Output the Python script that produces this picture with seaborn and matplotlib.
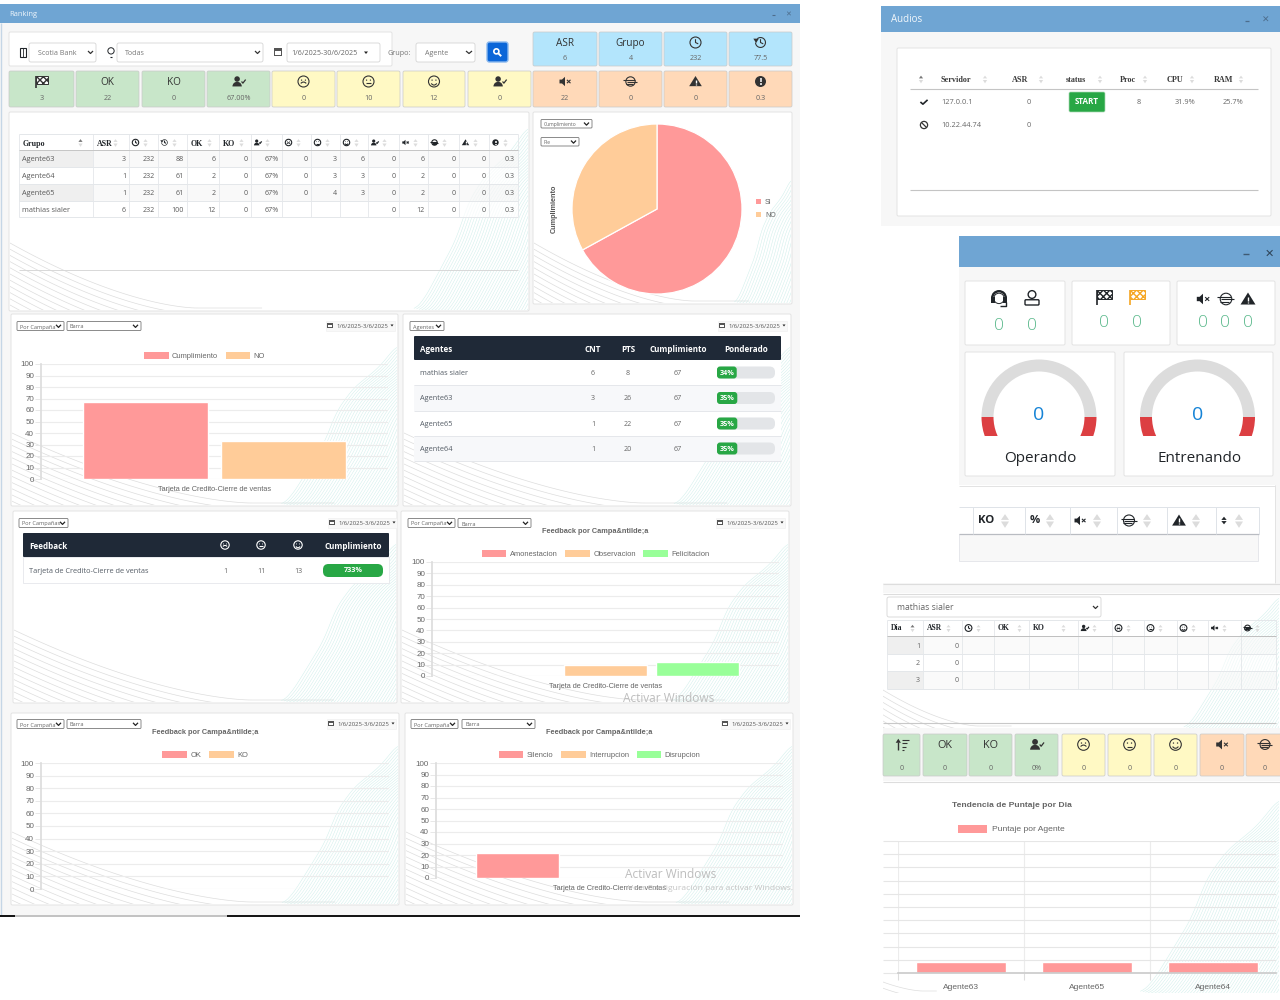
import numpy as np
import pandas as pd
import matplotlib
matplotlib.use("Agg")
import matplotlib.pyplot as plt
from matplotlib.patches import Rectangle, Circle, Polygon, Wedge, FancyBboxPatch, Patch
import seaborn as sns

# ------------------ data ------------------
rank_headers = ["Grupo", "ASR", "@clock", "@history", "OK", "KO", "@user", "@sad", "@neutral", "@happy",
                "@user", "@mute", "@globe", "@warn", "@info"]
rank_agente63 = ["Agente63", "3", "232", "88", "6", "0", "67%", "0", "3", "6", "0", "6", "0", "0", "0.3"]
rank_agente64 = ["Agente64", "1", "232", "61", "2", "0", "67%", "0", "3", "3", "0", "2", "0", "0", "0.3"]
rank_agente65 = ["Agente65", "1", "232", "61", "2", "0", "67%", "0", "4", "3", "0", "2", "0", "0", "0.3"]
rank_mathias = ["mathias sialer", "6", "232", "100", "12", "0", "67%", "", "", "", "0", "12", "0", "0", "0.3"]

kpi_top_heads = ["ASR", "Grupo", "@clock", "@history"]
kpi_top_vals = ["6", "4", "232", "77.5"]
kpi_main_heads = ["@flag", "OK", "KO", "@user", "@sad", "@neutral", "@happy", "@user",
                  "@mute", "@globe", "@warn", "@info"]
kpi_main_vals = ["3", "22", "0", "67.00%", "0", "10", "12", "0", "22", "0", "0", "0.3"]

pie_labels = ["SI", "NO"]
pie_values = [67, 33]

cumpl_labels = ["Cumplimiento", "NO"]
cumpl_values = [67, 33]
feedback_labels = ["Amonestacion", "Observacion", "Felicitacion"]
feedback_values = [0, 10, 12]
okko_labels = ["OK", "KO"]
okko_values = [0, 0]
silence_labels = ["Silencio", "Interrupcion", "Disrupcion"]
silence_values = [22, 0, 0]
campaign = "Tarjeta de Credito-Cierre de ventas"

agent_names = ["mathias sialer", "Agente63", "Agente65", "Agente64"]
agent_cnt = ["6", "3", "1", "1"]
agent_pts = ["8", "26", "22", "20"]
agent_cumpl = ["67", "67", "67", "67"]
agent_pond = [34, 35, 35, 35]

fb_row = ["1", "11", "13"]
fb_pct = "733%"

audio_headers = ["Servidor", "ASR", "status", "Proc", "CPU", "RAM"]
audio_ips = ["127.0.0.1", "10.22.44.74"]
audio_asr = ["0", "0"]
audio_proc = "8"
audio_cpu = "31.9%"
audio_ram = "25.7%"

day_headers = ["Dia", "ASR", "@clock", "OK", "KO", "@user", "@sad", "@neutral", "@happy", "@mute", "@globe"]
day_numbers = ["1", "2", "3"]
day_asr = ["0", "0", "0"]

kpi_low_heads = ["@sort", "OK", "KO", "@user", "@sad", "@neutral", "@happy", "@mute", "@globe"]
kpi_low_vals = ["0", "0", "0", "0%", "0", "0", "0", "0", "0"]

trend_agents = ["Agente63", "Agente65", "Agente64"]
trend_values = [8, 8, 8]

# ------------------ setup ------------------
sns.set_theme(style="white")
plt.rcParams["font.family"] = ["Open Sans", "DejaVu Sans"]
fig = plt.figure(figsize=(12.8, 10), dpi=100, facecolor="white")
bg = fig.add_axes([0, 0, 1, 1], zorder=0)
bg.set_xlim(0, 1280)
bg.set_ylim(1000, 0)
bg.axis("off")

BLUE, PANEL = "#6fa5d3", "#f7f7f7"
GREEN, YELLOW, ORANGE, SKY = "#c8e6c9", "#fff9c4", "#ffd9b8", "#b3e5fc"
DARK, INK, GREY = "#1f2937", "#212529", "#6c757d"
PINK, PEACH, LIME = "#ff9999", "#ffcc99", "#99ff99"
ARIAL = ["Liberation Sans", "DejaVu Sans"]
SERIF = ["Liberation Serif", "DejaVu Serif"]


def rect(x0, y0, x1, y1, fc="white", ec="none", lw=0.8, z=1):
    r = Rectangle((x0, y0), x1 - x0, y1 - y0, fc=fc, ec=ec, lw=lw, zorder=z)
    bg.add_patch(r)
    return r


def rrect(x0, y0, x1, y1, fc="white", ec="#dddddd", lw=0.8, r=2, z=1):
    p = FancyBboxPatch((x0 + r, y0 + r), x1 - x0 - 2 * r, y1 - y0 - 2 * r,
                       boxstyle=f"round,pad={r},rounding_size={r}", fc=fc, ec=ec, lw=lw, zorder=z)
    bg.add_patch(p)
    return p


def txt(x, y, s, size=5.2, color="#555555", ha="center", weight="normal", family=None, z=6, **kw):
    return bg.text(x, y + 1, s, fontsize=size, color=color, ha=ha, va="center", weight=weight,
                   family=family or ["Open Sans", "DejaVu Sans"], zorder=z, **kw)


def line(xs, ys, color="#cccccc", lw=0.8, z=3, **kw):
    bg.plot(xs, ys, color=color, lw=lw, zorder=z, solid_capstyle="butt", **kw)


def face(x, y, s, mouth, c):
    bg.add_patch(Circle((x, y), s, fc="none", ec=c, lw=0.8, zorder=7))
    for d in (-0.35, 0.35):
        bg.add_patch(Circle((x + d * s, y - 0.25 * s), 0.12 * s, fc=c, ec="none", zorder=7))
    t = np.linspace(-1, 1, 12)
    bow = {"happy": 0.3, "neutral": 0.0, "sad": -0.25}[mouth]
    line(x + 0.5 * s * t, y + 0.35 * s + bow * s * (1 - t ** 2), color=c, lw=0.8, z=7)


def icon(name, x, y, s=5.0, c=INK):
    if name == "clock":
        bg.add_patch(Circle((x, y), s, fc="none", ec=c, lw=0.8, zorder=7))
        line([x, x, x + 0.5 * s], [y - 0.6 * s, y, y + 0.25 * s], color=c, z=7)
    elif name == "history":
        bg.add_patch(Wedge((x, y), s, -130, 180, width=0.2 * s, fc=c, ec="none", zorder=7))
        line([x, x, x + 0.5 * s], [y - 0.6 * s, y, y + 0.25 * s], color=c, z=7)
        bg.add_patch(Polygon([[x - 1.3 * s, y - 0.7 * s], [x - 0.3 * s, y - 0.7 * s], [x - 0.8 * s, y + 0.1 * s]],
                             fc=c, ec="none", zorder=7))
    elif name == "flag":
        line([x - s, x - s], [y - s, y + 1.2 * s], color=c, lw=1.2, z=7)
        bg.add_patch(Polygon([[x - s, y - s], [x + 1.1 * s, y - s], [x + 1.1 * s, y + 0.4 * s], [x - s, y + 0.4 * s]],
                             fc="white", ec=c, lw=0.7, hatch="xxxxx", zorder=7))
    elif name == "user":
        bg.add_patch(Circle((x - 0.25 * s, y - 0.45 * s), 0.5 * s, fc=c, ec="none", zorder=7))
        bg.add_patch(Wedge((x - 0.25 * s, y + 0.9 * s), 0.85 * s, 180, 360, fc=c, ec="none", zorder=7))
        line([x + 0.55 * s, x + 0.8 * s, x + 1.3 * s], [y, y + 0.3 * s, y - 0.35 * s], color=c, lw=0.9, z=7)
    elif name == "person":
        bg.add_patch(Circle((x, y - 0.5 * s), 0.55 * s, fc="white", ec=c, lw=1, zorder=7))
        rrect(x - s, y + 0.25 * s, x + s, y + s, fc="white", ec=c, lw=1, r=1, z=7)
    elif name == "headset":
        bg.add_patch(Wedge((x, y), s, 180, 360, width=0.3 * s, fc=c, ec="none", zorder=7))
        bg.add_patch(Circle((x, y + 0.05 * s), 0.65 * s, fc="white", ec=c, lw=0.7, zorder=7))
        rect(x - s, y - 0.1 * s, x - 0.5 * s, y + 0.6 * s, fc=c, z=8)
        rect(x + 0.5 * s, y - 0.1 * s, x + s, y + 0.6 * s, fc=c, z=8)
        line([x + 0.85 * s, x + 0.85 * s, x + 0.1 * s], [y + 0.5 * s, y + 1.05 * s, y + 1.05 * s], color=c, lw=1, z=8)
    elif name in ("sad", "neutral", "happy"):
        face(x, y, s, name, c)
    elif name == "mute":
        bg.add_patch(Polygon([[x - s, y - 0.35 * s], [x - 0.55 * s, y - 0.35 * s], [x, y - 0.85 * s],
                              [x, y + 0.85 * s], [x - 0.55 * s, y + 0.35 * s], [x - s, y + 0.35 * s]],
                             fc=c, ec="none", zorder=7))
        line([x + 0.35 * s, x + s], [y - 0.3 * s, y + 0.3 * s], color=c, lw=0.8, z=7)
        line([x + 0.35 * s, x + s], [y + 0.3 * s, y - 0.3 * s], color=c, lw=0.8, z=7)
    elif name == "globe":
        bg.add_patch(Circle((x, y), 0.85 * s, fc="none", ec=c, lw=0.8, zorder=7))
        for d, a, b in ((-0.3, -1.3, 0.8), (0.05, -0.7, 1.2), (0.4, -0.9, 0.5)):
            line([x + a * s, x + b * s], [y + d * s, y + d * s], color=c, lw=0.8, z=7)
    elif name == "warn":
        bg.add_patch(Polygon([[x, y - s], [x + 1.15 * s, y + 0.85 * s], [x - 1.15 * s, y + 0.85 * s]],
                             fc=c, ec="none", zorder=7))
        line([x, x], [y - 0.35 * s, y + 0.25 * s], color="white", lw=1, z=8)
        line([x, x], [y + 0.4 * s, y + 0.65 * s], color="white", lw=1, z=8)
    elif name == "info":
        bg.add_patch(Circle((x, y), s, fc=c, ec="none", zorder=7))
        line([x, x], [y - 0.6 * s, y + 0.15 * s], color="white", lw=1.1, z=8)
        line([x, x], [y + 0.35 * s, y + 0.65 * s], color="white", lw=1.1, z=8)
    elif name == "sort":
        bg.add_patch(Polygon([[x - s, y - 0.3 * s], [x - 0.55 * s, y - s], [x - 0.1 * s, y - 0.3 * s]],
                             fc=c, ec="none", zorder=7))
        line([x - 0.55 * s, x - 0.55 * s], [y - 0.5 * s, y + s], color=c, lw=1, z=7)
        for d, w in ((-0.8, 1.2), (-0.2, 0.9), (0.4, 0.6), (0.9, 0.3)):
            line([x + 0.1 * s, x + (0.1 + w) * s], [y + d * s, y + d * s], color=c, lw=0.8, z=7)
    elif name == "updown":
        bg.add_patch(Polygon([[x - 0.7 * s, y - 0.15 * s], [x + 0.7 * s, y - 0.15 * s], [x, y - s]], fc=c, ec="none", zorder=7))
        bg.add_patch(Polygon([[x - 0.7 * s, y + 0.15 * s], [x + 0.7 * s, y + 0.15 * s], [x, y + s]], fc=c, ec="none", zorder=7))
    elif name == "calendar":
        rect(x - s, y - s, x + s, y + s, fc="#555555", z=7)
        rect(x - 0.7 * s, y - 0.3 * s, x + 0.7 * s, y + 0.7 * s, fc="white", z=8)
    elif name == "bulb":
        bg.add_patch(Circle((x, y - 0.25 * s), 0.7 * s, fc="none", ec=c, lw=0.7, zorder=7))
        line([x - 0.3 * s, x + 0.3 * s], [y + s, y + s], color=c, lw=0.8, z=7)
    elif name == "building":
        rect(x - 0.7 * s, y - s, x + 0.7 * s, y + s, fc="white", ec=c, lw=0.8, z=7)
        line([x, x], [y - 0.8 * s, y + s], color=c, lw=0.6, z=7)
    elif name == "search":
        bg.add_patch(Circle((x - 0.15 * s, y - 0.15 * s), 0.6 * s, fc="none", ec=c, lw=1.2, zorder=7))
        line([x + 0.3 * s, x + s], [y + 0.3 * s, y + s], color=c, lw=1.4, z=7)
    elif name == "check":
        line([x - s, x - 0.3 * s, x + s], [y, y + 0.6 * s, y - 0.6 * s], color=c, lw=1.2, z=7)
    elif name == "ban":
        bg.add_patch(Circle((x, y), s, fc="none", ec=c, lw=0.9, zorder=7))
        line([x - 0.7 * s, x + 0.7 * s], [y - 0.7 * s, y + 0.7 * s], color=c, lw=0.9, z=7)


def head(spec, x, y, s=5.0, size=7, color=INK, ha="center", weight="normal"):
    if spec.startswith("@"):
        icon(spec[1:], x, y, s, color)
    else:
        txt(x, y, spec, size=size, color=color, ha=ha, weight=weight)


def sort_marks(x, y, s=2.3, active=False):
    bg.add_patch(Polygon([[x - s, y - 0.6], [x + s, y - 0.6], [x, y - s * 1.6]],
                         fc="#777777" if active else "#dcdcdc", ec="none", zorder=7))
    bg.add_patch(Polygon([[x - s, y + 1], [x + s, y + 1], [x, y + 1 + s * 1.6]],
                         fc="#dcdcdc", ec="none", zorder=7))


def kpi(x0, x1, y0, y1, color, spec, val, hs=7.2, vs=5.2, is_=5.5):
    rrect(x0, y0, x1, y1, fc=color, ec="#c9c9c9", lw=0.5, r=1.5, z=2)
    xc = (x0 + x1) / 2
    head(spec, xc, y0 + 10.5, s=is_, size=hs, color="#333333")
    txt(xc, y1 - 9, val, size=vs, color="#666666")


def select(x0, x1, y0, y1, label, size=4.1):
    rrect(x0, y0, x1, y1, fc="white", ec="#777777", lw=0.6, r=1, z=5)
    txt(x0 + 3, (y0 + y1) / 2, label, size=size, color="#666666", ha="left")
    cx = x1 - 5.5
    line([cx - 2.5, cx, cx + 2.5], [(y0 + y1) / 2 - 1.2, (y0 + y1) / 2 + 1.4, (y0 + y1) / 2 - 1.2], color="#222222", lw=0.9, z=7)


def date_pick(x, y):
    rect(x - 1, y - 5, x + 68, y + 5, fc="#f8f8f8", ec="#eeeeee", lw=0.4, z=4)
    icon("calendar", x + 3, y, 2.6)
    txt(x + 9, y, "1/6/2025-3/6/2025", size=4.3, color="#555555", ha="left")
    bg.add_patch(Polygon([[x + 63.5, y - 1], [x + 66.5, y - 1], [x + 65, y + 1]], fc="#222222", ec="none", zorder=7))


# shape of the decorative teal sweep (fraction along width, fraction of height)
SWEEP_X = [0.00, 0.08, 0.16, 0.28, 0.38, 0.47, 0.62, 0.84, 1.00]
SWEEP_Y = [0.00, 0.05, 0.14, 0.28, 0.40, 0.58, 0.73, 0.86, 1.00]


def decor(x0, y0, x1, y1, dip=70, span=0.62, tx=0.70, th=0.84):
    """Decorative card backdrop: grey sweeping lines bottom-left, teal mesh bottom-right."""
    clip = Rectangle((x0, y0), x1 - x0, y1 - y0, transform=bg.transData)
    w, h = x1 - x0, y1 - y0
    t = np.linspace(0, 1, 80)
    for k in range(12):
        d = k * 6.2
        xs = x0 + t * w * span * 1.35
        ys = y1 - dip * (1 - np.minimum(t * 1.35, 1)) ** 1.6 + d - 2
        ln, = bg.plot(xs, ys, color="#dddddd", lw=0.5, zorder=1.5)
        ln.set_clip_path(clip)
    s = np.linspace(0, 1, 60)
    fy = np.interp(s, SWEEP_X, SWEEP_Y)
    fy = np.convolve(np.r_[[fy[0]] * 3, fy, [fy[-1]] * 3], np.ones(7) / 7, mode="valid")
    for k in range(60):
        xs = x0 + w * (tx + (1 - tx) * s) + k * 2.6
        ys = y1 - th * h * fy + k * 0.5
        ln, = bg.plot(xs, ys, color="#cfeeea", lw=0.35, zorder=1.5)
        ln.set_clip_path(clip)


def card(x0, y0, x1, y1, deco=True, **kw):
    rrect(x0, y0, x1, y1, fc="white", ec="#e3e3e3", lw=0.7, r=1.5, z=1.2)
    if deco:
        decor(x0 + 1, y0 + 1, x1 - 1, y1 - 1, **kw)


def inset(x0, y0, x1, y1):
    a = fig.add_axes([x0 / 1280, 1 - y1 / 1000, (x1 - x0) / 1280, (y1 - y0) / 1000], zorder=2)
    a.patch.set_alpha(0)
    return a


def bar_chart(box, labels, values, cat, width, gap):
    ax = inset(*box)
    df = pd.DataFrame({"cat": [cat] * len(labels), "serie": labels, "valor": values})
    palette = [PINK, PEACH, LIME][: len(labels)]
    sns.barplot(data=df, x="cat", y="valor", hue="serie", palette=palette, width=width, gap=gap,
                saturation=1, legend=False, ax=ax)
    ax.set_ylim(0, 100)
    ax.set_yticks(range(0, 101, 10))
    ax.set_xlabel("")
    ax.set_ylabel("")
    ax.grid(axis="y", color="#ececec", lw=0.8)
    ax.set_axisbelow(True)
    ax.tick_params(axis="y", left=True, length=4, width=0.7, color="#e8e8e8", labelsize=5.8, labelcolor="#666666", pad=1)
    ax.tick_params(axis="x", length=0, labelsize=5.3, labelcolor="#666666", pad=5)
    for lab in ax.get_xticklabels() + ax.get_yticklabels():
        lab.set_family(ARIAL)
    for side in ("top", "right", "bottom"):
        ax.spines[side].set_visible(False)
    ax.spines["left"].set_color("#dddddd")
    handles = [Patch(fc=c, ec="none") for c in palette]
    ax.legend(handles, labels, loc="lower center", bbox_to_anchor=(0.5 - 10 / (box[2] - box[0]), 1.0), ncol=len(labels),
              frameon=False, prop={"family": ARIAL, "size": 5.4}, labelcolor="#666666", handlelength=3.3,
              handleheight=1.05, handletextpad=0.45, columnspacing=1.0, borderaxespad=0.15)
    return ax


# ------------------ ranking window ------------------
rect(0, 4, 800, 915, fc=PANEL, z=0.5)
rect(0, 4, 800, 23, fc=BLUE, z=1)
line([1, 1], [23, 915], color="#c5d6e6", lw=1)
txt(9, 14, "Ranking", size=5.5, color="#eef5fb", ha="left")
line([772, 775], [15, 15], color="#4d6d8c", lw=0.8)
txt(788, 14, "✕", size=5, color="#4d6d8c", family=["DejaVu Sans"])
line([0, 800], [915.5, 915.5], color="#111111", lw=1.4, z=8)
line([15, 227], [915.5, 915.5], color="#c8c8c8", lw=1.4, z=9)

# filter card
card(9, 32, 392, 66, deco=False)
icon("building", 23, 52, 4.5)
rrect(29, 43, 96, 62, fc="white", ec="#d5d5d5", lw=0.6, r=2, z=3)
txt(38, 52.5, "Scotia Bank", size=5.1, color="#777777", ha="left")
line([88, 90.5, 93], [51, 53.5, 51], color="#333333", lw=0.9, z=7)
icon("bulb", 111, 52, 4.5)
rrect(117, 43, 263, 62, fc="white", ec="#d5d5d5", lw=0.6, r=2, z=3)
txt(125, 52.5, "Todas", size=5.1, color="#777777", ha="left")
line([255, 257.5, 260], [51, 53.5, 51], color="#333333", lw=0.9, z=7)
icon("calendar", 278, 52, 3.8)
rrect(287, 43, 380, 62, fc="white", ec="#d5d5d5", lw=0.6, r=2, z=3)
txt(291, 52.5, "1/6/2025-30/6/2025", size=5.1, color="#666666", ha="left")
bg.add_patch(Polygon([[364, 51.5], [368, 51.5], [366, 54]], fc="#222222", ec="none", zorder=7))
txt(388, 52.5, "Grupo:", size=5.2, color="#777777", ha="left")
rrect(416, 43, 475, 62, fc="white", ec="#d5d5d5", lw=0.6, r=2, z=3)
txt(425, 52.5, "Agente", size=5.1, color="#777777", ha="left")
line([466, 469, 472], [51, 53.5, 51], color="#333333", lw=0.9, z=7)
rrect(487, 42, 508, 62, fc="#0b66d8", ec="#8ab8ee", lw=1, r=2.5, z=3)
icon("search", 497, 52, 4.2, "white")

top_edges = [(533, 597), (599, 662), (664, 727), (729, 792)]
for (a, b), s, v in zip(top_edges, kpi_top_heads, kpi_top_vals):
    kpi(a, b, 32, 66, SKY, s, v, hs=7.2)
main_edges = [(9, 74), (76, 139), (142, 205), (207, 270), (272, 335), (337, 400), (403, 465), (468, 531),
              (533, 597), (599, 662), (664, 727), (729, 792)]
main_cols = [GREEN] * 4 + [YELLOW] * 4 + [ORANGE] * 4
for (a, b), c, s, v in zip(main_edges, main_cols, kpi_main_heads, kpi_main_vals):
    kpi(a, b, 71, 107, c, s, v, hs=7.2)

# ranking table
card(9, 112, 529, 311, dip=65, span=0.36, tx=0.78, th=0.93)
rx = [19, 93, 129, 158, 187, 219, 251, 282, 311, 340, 368, 399, 428, 459, 489, 518]
ry = [134, 150, 167, 184, 201, 217]
rows = [rank_agente63, rank_agente64, rank_agente65, rank_mathias]
for i in range(4):
    rect(19, ry[i + 1], 518, ry[i + 2], fc="#f7f7f7" if i % 2 == 0 else "#ffffff", z=1.8).set_alpha(0.75)
    if i % 2 == 0:
        rect(19, ry[i + 1], 93, ry[i + 2], fc="#efefef", z=1.9)
for x in rx:
    line([x, x], [ry[0], ry[-1]], color="#e4e7ea", lw=0.6)
for y in ry:
    line([19, 518], [y, y], color="#e4e7ea" if y != 150 else "#c5c5c5", lw=0.7)
for j, h in enumerate(rank_headers):
    x = rx[j] + 3.5
    if h.startswith("@"):
        icon(h[1:], x + 3, 142.5, 3.2)
        sort_marks(x + 13, 142.5, s=2.1)
    else:
        txt(x, 142.5, h, size=5.7, color=INK, ha="left", weight="bold", family=SERIF)
        sort_marks(x + (58 if j == 0 else 19), 142.5, s=2.1, active=(j == 0))
for i, row in enumerate(rows):
    yc = (ry[i + 1] + ry[i + 2]) / 2
    txt(22.5, yc, row[0], size=5.3, color="#5a5a5a", ha="left")
    for j, v in enumerate(row[1:], start=1):
        txt(rx[j + 1] - 3, yc, v, size=5.1, color="#5a5a5a", ha="right")
line([19, 518], [270, 270], color="#d8d8d8", lw=0.7)

# pie
card(533, 112, 792, 304, dip=58, tx=0.78, th=0.65)
select(541, 592, 119.5, 128, "Cumplimiento", size=3.6)
select(541, 579, 137.5, 146, "Pie", size=3.6)
txt(554, 208, "Cumplimiento", size=5.2, color="#555555", rotation=90, weight="bold", family=ARIAL)
pie_ax = inset(568, 120, 746, 298)
pie_ax.pie(pie_values, colors=[PINK, PEACH], startangle=90, counterclock=False, radius=1.0,
           wedgeprops={"edgecolor": "white", "linewidth": 0.9})
pie_ax.set_xlim(-89 / 85, 89 / 85)
pie_ax.set_ylim(-89 / 85, 89 / 85)
for i, (lab, col) in enumerate(zip(pie_labels, [PINK, PEACH])):
    y = 201.5 + i * 13
    rect(756, y - 2.5, 761, y + 2.5, fc=col, z=6)
    txt(765, y, lab, size=5.0, color="#666666", ha="left", family=ARIAL)

# first row charts
card(11, 314, 398, 506)
select(17, 64, 321.5, 330.5, "Por Campaña")
select(67, 141, 321.5, 330.5, "Barra")
date_pick(327, 325.5)
bar_chart((41, 364, 388, 479), cumpl_labels, cumpl_values, campaign, 0.80, 0.10)

card(403, 314, 791, 506)
select(410, 444, 321.5, 330.5, "Agentes")
date_pick(719, 325.5)
rrect(414, 336, 781, 360, fc=DARK, ec="none", r=1, z=3)
txt(420, 348.5, "Agentes", size=5.8, color="white", ha="left", weight="bold")
for x, h in zip((593, 628, 678, 746), ("CNT", "PTS", "Cumplimiento", "Ponderado")):
    txt(x, 348.5, h, size=5.8, color="white", weight="bold")
ag_y = [360, 385, 411, 436, 461]
for i, name in enumerate(agent_names):
    y0, y1 = ag_y[i], ag_y[i + 1]
    rect(414, y0, 781, y1, fc="white" if i % 2 == 0 else "#f7f8fa", z=3)
    line([414, 781], [y1, y1], color="#e5e7eb", lw=0.7, z=3.2)
    yc = (y0 + y1) / 2
    txt(420, yc, name, size=5.3, color="#555d66", ha="left")
    txt(593, yc, agent_cnt[i], size=5.1, color="#666666")
    txt(628, yc, agent_pts[i], size=5.1, color="#666666")
    txt(678, yc, agent_cumpl[i], size=5.1, color="#666666")
    rrect(717, yc - 6, 775, yc + 6, fc="#e3e5e8", ec="none", r=5.5, z=4)
    bw = 58 * agent_pond[i] / 100
    rrect(717, yc - 6, 717 + bw, yc + 6, fc="#28a745", ec="none", r=3, z=4.5)
    txt(717 + bw / 2, yc, f"{agent_pond[i]}%", size=5.2, color="white", weight="bold")

# second row
card(13, 511, 397, 703)
select(19, 68, 518.5, 527.5, "Por Campañas")
date_pick(329, 522.5)
rrect(23, 533, 389, 557, fc=DARK, ec="none", r=1, z=3)
txt(29, 545.5, "Feedback", size=5.8, color="white", ha="left", weight="bold")
for x, n in zip((225, 261, 298), ("sad", "neutral", "happy")):
    icon(n, x, 545, 4.2, "white")
txt(353, 545.5, "Cumplimiento", size=5.8, color="white", weight="bold")
rect(23, 557, 389, 583, fc="white", ec="#e5e7eb", lw=0.6, z=3)
txt(29, 570.5, campaign, size=5.3, color="#555d66", ha="left")
for x, v in zip((225, 261, 298), fb_row):
    txt(x, 570.5, v, size=5.1, color="#666666")
rrect(323, 564, 383, 577, fc="#28a745", ec="none", r=5.5, z=4)
txt(353, 569.5, fb_pct, size=5.2, color="white", weight="bold")

card(401, 511, 789, 703)
select(408, 455, 518.5, 527.5, "Por Campaña")
select(458, 531, 518.5, 527.5, "Barra")
date_pick(717, 522.5)
txt(595, 530.5, "Feedback por Campa&ntilde;a", size=5.3, color="#666666", weight="bold", family=ARIAL)
bar_chart((432, 562, 779, 676), feedback_labels, feedback_values, campaign, 0.795, 0.098)

# third row
card(11, 713, 399, 905)
select(17, 64, 719.5, 728.5, "Por Campaña")
select(67, 141, 719.5, 728.5, "Barra")
date_pick(328, 723.5)
txt(205, 732, "Feedback por Campa&ntilde;a", size=5.3, color="#666666", weight="bold", family=ARIAL)
bar_chart((41, 763, 389, 889), okko_labels, okko_values, campaign, 0.80, 0.10).set_xticklabels([""])

card(405, 713, 793, 905)
select(411, 458, 719.5, 728.5, "Por Campaña")
select(462, 535, 719.5, 728.5, "Barra")
date_pick(722, 723.5)
txt(599, 732, "Feedback por Campa&ntilde;a", size=5.3, color="#666666", weight="bold", family=ARIAL)
bar_chart((436, 763, 783, 878), silence_labels, silence_values, campaign, 0.795, 0.098)

# Windows activation watermark
fig.text(623 / 1280, 1 - 698 / 1000, "Activar Windows", fontsize=8.6, color="#bdbdbd", va="center", zorder=6, family=["Open Sans"])
fig.text(625 / 1280, 1 - 874 / 1000, "Activar Windows", fontsize=8.6, color="#bdbdbd", va="center", zorder=6, family=["Open Sans"])
fig.text(793 / 1280, 1 - 888 / 1000, "Ve a Configuración para activar Windows.", fontsize=6.1, color="#c4c4c4",
         va="center", ha="right", zorder=6, family=["Open Sans"])

# ------------------ audios window ------------------
rect(881, 32, 1280, 226, fc=PANEL, z=0.5)
rect(881, 6, 1280, 32, fc=BLUE, z=1)
txt(891, 19, "Audios", size=7, color="#f2f7fb", ha="left")
line([1245, 1249], [20.5, 20.5], color="#4d6d8c", lw=0.9)
txt(1266, 19, "✕", size=6.5, color="#4d6d8c", family=["DejaVu Sans"])
card(897, 48, 1271, 216, deco=False)
sort_marks(921, 79, s=2.1, active=True)
for h, x in zip(audio_headers, (941, 1012, 1066, 1120, 1167, 1214)):
    txt(x, 78.5, h, size=5.9, color="#3a3a3a", ha="left", weight="bold", family=SERIF)
for x in (985, 1041, 1100, 1145, 1192, 1241):
    sort_marks(x, 79, s=2.1)
line([910, 1258], [88.5, 88.5], color="#c4c4c4", lw=0.8)
line([910, 1258], [189.5, 189.5], color="#c4c4c4", lw=0.8)
icon("check", 924, 102, 3.6)
icon("ban", 924, 125, 3.6, "#333333")
for ip, a, y in zip(audio_ips, audio_asr, (101.5, 124.5)):
    txt(941, y, ip, size=5.3, color="#666666", ha="left")
    txt(1029, y, a, size=5.3, color="#666666")
rrect(1069, 92, 1105, 112, fc="#28a745", ec="#a9d9b4", lw=0.5, r=1.5, z=3)
txt(1087, 101, "START", size=5.8, color="white", weight="bold")
txt(1139, 101.5, audio_proc, size=5.3, color="#666666")
txt(1185, 101.5, audio_cpu, size=5.3, color="#666666")
txt(1233, 101.5, audio_ram, size=5.3, color="#666666")

# ------------------ monitor window ------------------
rect(959, 267, 1280, 583, fc=PANEL, z=0.5)
rect(959, 236, 1280, 267, fc=BLUE, z=1)
line([1243, 1249], [254, 254], color="#3f5a73", lw=1)
txt(1269, 252.5, "✕", size=8, color="#2f4458", family=["DejaVu Sans"])
for a, b in ((965, 1065), (1072, 1170), (1177, 1275)):
    card(a, 281, b, 345, deco=False)
icon("headset", 999, 298, 8)
icon("person", 1032, 298, 7)
icon("flag", 1104, 296.5, 7)
icon("flag", 1137, 296.5, 7, "#f5a623")
icon("mute", 1203, 299, 6.2)
icon("globe", 1226, 299, 6.8)
icon("warn", 1248, 299, 6.5)
for x, y in ((999, 325), (1032, 325), (1104, 322), (1137, 322), (1203, 322), (1225, 322), (1248, 322)):
    txt(x, y, "0", size=12.5, color="#5bb98c", weight="light")
for (a, b, cx, lab, lx) in ((965, 1115, 1039, "Operando", 1040), (1124, 1273, 1197.5, "Entrenando", 1200)):
    card(a, 352, b, 476, deco=False)
    clip = Rectangle((cx - 65, 350), 130, 86, transform=bg.transData)
    w1 = Wedge((cx, 417), 57.5, 180, 360, width=12, fc="#dcdcdc", ec="none", zorder=3)
    bg.add_patch(w1)
    w1.set_clip_path(clip)
    w2 = Wedge((cx, 417), 57.5, 0, 180, width=12, fc="#dc3f42", ec="none", zorder=3)
    bg.add_patch(w2)
    w2.set_clip_path(clip)
    txt(cx, 414, "0", size=14, color="#1583d6")
    txt(lx, 457.5, lab, size=11, color=INK)
rect(959, 485, 1275, 583, fc="white", z=0.8)
line([959, 1275], [485.5, 485.5], color="#e3e3e3", lw=0.7)
line([1275, 1275], [485, 583], color="#e3e3e3", lw=0.7)
rect(959, 534, 1258, 561, fc="#f8f8f8", ec="#e3e4e8", lw=0.6, z=2)
mx = [973, 1025, 1070, 1117, 1167, 1216, 1258.5]
line([959, 1258.5], [506.5, 506.5], color="#dfe3e8", lw=0.7)
line([959, 1258.5], [533.5, 533.5], color="#b9bcc2", lw=0.9)
for x in mx:
    line([x, x], [506.5, 533.5], color="#dfe3e8", lw=0.7)
txt(978, 519.5, "KO", size=8.2, color=INK, ha="left", weight="bold")
sort_marks(1005, 520.5, s=4)
txt(1030, 519.5, "%", size=8.2, color=INK, ha="left", weight="bold")
sort_marks(1050, 520.5, s=4)
icon("mute", 1080, 520.5, 5.5)
sort_marks(1097, 520.5, s=4)
icon("globe", 1129, 520.5, 6.5)
sort_marks(1147, 520.5, s=4)
icon("warn", 1179, 520.5, 6)
sort_marks(1196, 520.5, s=4)
icon("updown", 1224, 520.5, 3.8)
sort_marks(1239, 520.5, s=4)

# ------------------ detail window ------------------
rect(883, 583, 1280, 593, fc=PANEL, z=1)
line([883, 1280], [583.5, 583.5], color="#dddddd", lw=0.8)
line([883, 1280], [593.5, 593.5], color="#dddddd", lw=0.8)
rect(883, 594, 1280, 729, fc="white", z=1)
decor(883, 594, 1279, 728, dip=36, span=0.24, tx=0.76, th=0.98)
rrect(887, 597, 1101, 617, fc="white", ec="#d5d5d5", lw=0.6, r=2, z=3)
txt(897, 607, "mathias sialer", size=6.2, color="#666666", ha="left")
line([1093, 1095.5, 1098], [606, 608.5, 606], color="#333333", lw=0.9, z=7)
dx = [887, 923, 962, 994, 1029, 1078, 1112, 1144, 1177, 1208, 1241, 1276]
dy = [620, 636, 654, 671, 689]
for i in range(3):
    rect(887, dy[i + 1], 1276, dy[i + 2], fc="#f8f8f8" if i % 2 == 0 else "white", z=1.8).set_alpha(0.6)
    if i % 2 == 0:
        rect(887, dy[i + 1], 923, dy[i + 2], fc="#efefef", z=1.9)
for x in dx:
    line([x, x], [dy[0], dy[-1]], color="#e4e7ea", lw=0.6)
for y in dy:
    line([887, 1276], [y, y], color="#e4e7ea" if y != 636 else "#bfbfbf", lw=0.7)
for j, h in enumerate(day_headers):
    x = dx[j] + 3.5
    if h.startswith("@"):
        icon(h[1:], x + 3, 628, 3.4)
        sort_marks(x + 13, 628, s=2)
    else:
        txt(x, 627.5, h, size=5.5, color=INK, ha="left", weight="bold", family=SERIF)
        sort_marks(x + 22 if j != 4 else x + 31, 628, s=2, active=(j == 0))
for i in range(3):
    yc = (dy[i + 1] + dy[i + 2]) / 2
    txt(920, yc, day_numbers[i], size=5.1, color="#666666", ha="right")
    txt(959, yc, day_asr[i], size=5.1, color="#666666", ha="right")
line([883, 1276], [722.5, 722.5], color="#c8c8c8", lw=0.8)
rect(883, 728, 1280, 781, fc=PANEL, z=1.6)
line([883, 1280], [781.5, 781.5], color="#dddddd", lw=0.8)
low_edges = [(883, 920), (923, 967), (969, 1012), (1015, 1058), (1062, 1105), (1108, 1151), (1154, 1197), (1200, 1244),
             (1246, 1284)]
low_cols = [GREEN] * 4 + [YELLOW] * 3 + [ORANGE] * 2
for (a, b), c, s, v in zip(low_edges, low_cols, kpi_low_heads, kpi_low_vals):
    kpi(a, b, 734, 776, c, s, v, hs=7.8, is_=5.8)
rect(1279.5, 700, 1290, 800, fc="white", z=2.5)

rect(883, 782, 1280, 993, fc="white", z=1)
decor(883, 782, 1279, 993, dip=9, span=0.1, tx=0.65, th=0.92)
txt(1012, 804.5, "Tendencia de Puntaje por Dia", size=6.1, color="#666666", weight="bold", family=ARIAL)
rect(958, 825, 987, 833, fc=PINK, z=6)
txt(992, 828.5, "Puntaje por Agente", size=6.1, color="#666666", ha="left", family=ARIAL)

tax = inset(898, 841, 1276, 973)
tdf = pd.DataFrame({"agente": trend_agents, "puntaje": trend_values})
sns.barplot(data=tdf, x="agente", y="puntaje", color=PINK, saturation=1, width=0.72, ax=tax)
tax.set_ylim(0, 100)
tax.set_yticks(range(0, 101, 10))
tax.set_yticklabels([])
tax.set_xlabel("")
tax.set_ylabel("")
tax.set_xticks([-0.5, 0.5, 1.5], minor=True)
tax.grid(axis="y", color="#e6e6e6", lw=0.8)
tax.grid(axis="x", which="minor", color="#ececec", lw=0.8)
tax.set_axisbelow(True)
tax.tick_params(axis="y", left=True, length=10.8, width=0.8, color="#e6e6e6", pad=0)
tax.tick_params(axis="x", which="major", length=0, labelsize=6, labelcolor="#666666", pad=8)
tax.tick_params(axis="x", which="minor", bottom=True, length=5, width=0.8, color="#dddddd")
for lab in tax.get_xticklabels():
    lab.set_family(ARIAL)
for side in ("top", "right", "left"):
    tax.spines[side].set_visible(False)
tax.spines["bottom"].set_color("#cccccc")

fig.savefig("out.png", dpi=100, facecolor="white")
